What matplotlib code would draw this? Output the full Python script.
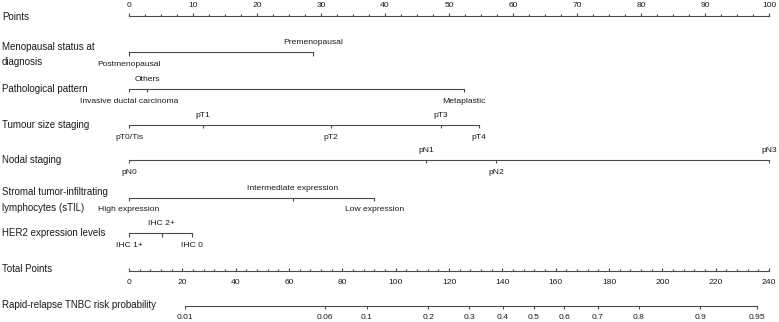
import numpy as np
import matplotlib
matplotlib.use("Agg")
import matplotlib.pyplot as plt

plt.rcParams['font.family'] = ['Liberation Sans', 'DejaVu Sans']

# points scale
points_major = np.arange(0, 101, 10)
points_minor = np.arange(0, 100.1, 2.5)

# variables: level names and their points
meno_levels = ["Postmenopausal", "Premenopausal"]
meno_points = [0, 28.8]
path_levels = ["Invasive ductal carcinoma", "Others", "Metaplastic"]
path_points = [0, 2.8, 52.3]
tumour_levels = ["pT0/Tis", "pT1", "pT2", "pT3", "pT4"]
tumour_points = [0, 11.6, 31.5, 48.7, 54.7]
nodal_levels = ["pN0", "pN1", "pN2", "pN3"]
nodal_points = [0, 46.4, 57.4, 100]
stil_levels = ["High expression", "Intermediate expression", "Low expression"]
stil_points = [0, 25.6, 38.3]
her2_levels = ["IHC 1+", "IHC 2+", "IHC 0"]
her2_points = [0, 5.1, 9.9]

# total points and probability
total_major = np.arange(0, 241, 20)
total_minor = np.arange(0, 240.1, 4)
total_max = 240
prob_ticks = [0.01, 0.06, 0.1, 0.2, 0.3, 0.4, 0.5, 0.6, 0.7, 0.8, 0.9, 0.95]
prob_labels = ["0.01", "0.06", "0.1", "0.2", "0.3", "0.4", "0.5", "0.6", "0.7", "0.8", "0.9", "0.95"]
lp_intercept = 151.7   # total points at logit = 0
lp_slope = 28.45       # total points per logit unit

W, H = 779, 322
fig = plt.figure(figsize=(W / 100, H / 100), dpi=100)
ax = fig.add_axes([0, 0, 1, 1])
px = 6.4  # pixels per point
ax.set_xlim(-129 / px, (W - 129) / px)
ax.set_ylim(H, 0)
ax.axis("off")

LC = "#4a4a4a"
TC = "#1a1a1a"
LW = 0.8
FS_TITLE = 7.0
FS_TICK = 6.1
title_tr = ax.get_yaxis_transform()


def row_title(lines, ys):
    # one text per line so the labels keep tight boxes
    for text, ty in zip(lines, ys):
        ax.text(2 / W, ty, text, transform=title_tr, ha="left", va="center",
                fontsize=FS_TITLE, color=TC)


# Points axis
y = 15.7
row_title(["Points"], [16.5])
ax.plot([0, 100], [y, y], color=LC, lw=LW)
ax.vlines(points_minor, y - 1.6, y, color=LC, lw=LW)
ax.vlines(points_major, y - 3.2, y, color=LC, lw=LW)
for v in points_major:
    ax.text(v, y - 6.5, f"{v:g}", ha="center", va="bottom", fontsize=FS_TICK, color=TC)


def var_axis(title, levels, pts, y, ty):
    row_title(title, ty)
    ax.plot([min(pts), max(pts)], [y, y], color=LC, lw=LW)
    order = np.argsort(pts)
    for k, i in enumerate(order):
        ax.vlines(pts[i], y, y + 3.2, color=LC, lw=LW)
        if k % 2 == 0:
            ax.text(pts[i], y + 8.5, levels[i], ha="center", va="top",
                    fontsize=FS_TICK, color=TC)
        else:
            ax.text(pts[i], y - 6, levels[i], ha="center", va="bottom",
                    fontsize=FS_TICK, color=TC)


var_axis(["Menopausal status at", "diagnosis"], meno_levels, meno_points, 52.3, [46.7, 61.5])
var_axis(["Pathological pattern"], path_levels, path_points, 89, [89])
var_axis(["Tumour size staging"], tumour_levels, tumour_points, 125, [125])
var_axis(["Nodal staging"], nodal_levels, nodal_points, 160, [160])
var_axis(["Stromal tumor-infiltrating", "lymphocytes (sTIL)"], stil_levels, stil_points, 197.7, [191.7, 208.3])
var_axis(["HER2 expression levels"], her2_levels, her2_points, 233.3, [233.3])

# Total points axis
scale = 100 / total_max
y = 271
row_title(["Total Points"], [269.5])
ax.plot([0, 100], [y, y], color=LC, lw=LW)
ax.vlines(total_minor * scale, y - 1.6, y, color=LC, lw=LW)
ax.vlines(total_major * scale, y - 3.2, y, color=LC, lw=LW)
for v in total_major:
    ax.text(v * scale, y + 8.5, f"{v:g}", ha="center", va="top", fontsize=FS_TICK, color=TC)

# Probability axis
y = 306
row_title(["Rapid-relapse TNBC risk probability"], [305])
pt = np.array(prob_ticks)
tp = lp_intercept + lp_slope * np.log(pt / (1 - pt))
ax.plot([tp.min() * scale, tp.max() * scale], [y, y], color=LC, lw=LW)
ax.vlines(tp * scale, y, y + 3.2, color=LC, lw=LW)
for xv, lab in zip(tp, prob_labels):
    ax.text(xv * scale, y + 8, lab, ha="center", va="top", fontsize=FS_TICK, color=TC)

fig.savefig("out.png", dpi=100)
